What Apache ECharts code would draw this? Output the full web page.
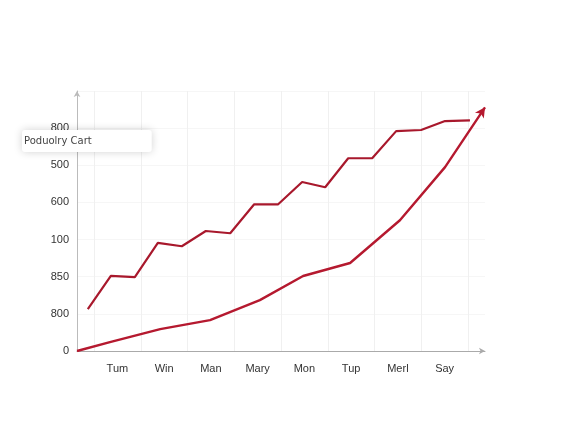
<!DOCTYPE html><html><head><meta charset="utf-8">
<script src="https://cdn.jsdelivr.net/npm/echarts@6/dist/echarts.min.js"></script>
<style>html,body{margin:0;background:#fff}#c{width:576px;height:448px}</style></head><body><div id="c"></div>
<script>
const categories=['Tum','Win','Man','Mary','Mon','Tup','Merl','Say'];
const yTickLabels=['0','800','850','100','600','500','800'];
const upperSeries=[[0.23,1.13],[0.72,2.02],[1.23,1.99],[1.72,2.91],[2.23,2.82],[2.74,3.23],[3.26,3.17],[3.77,3.95],[4.28,3.95],[4.79,4.55],[5.28,4.41],[5.77,5.19],[6.28,5.19],[6.79,5.92],[7.32,5.95],[7.83,6.19],[8.36,6.21]];
const lowerSeries=[[0,0],[0.70,0.24],[1.77,0.59],[2.83,0.83],[3.89,1.37],[4.81,2.02],[5.81,2.37],[6.87,3.52],[7.83,4.95],[8.68,6.56]];
const titleText='Poduolry Cart';
const red='#b5192f';
const ch=echarts.init(document.getElementById('c'));
ch.setOption({
 animation:false,
 title:{text:titleText,left:22,top:130,padding:[6,60,6,2],backgroundColor:'#fff',borderRadius:3,
  shadowBlur:8,shadowColor:'rgba(0,0,0,0.18)',textStyle:{fontSize:10,fontWeight:'normal',color:'#444',fontFamily:'DejaVu Sans'}},
 grid:[{left:77,right:91,top:91,bottom:97},{left:94,width:374,top:91,bottom:97}],
 xAxis:[
  {type:'value',gridIndex:0,min:0,max:8.68,axisLabel:{show:false},axisTick:{show:false},splitLine:{show:false},
   axisLine:{lineStyle:{color:'#aaa'},symbol:['none','arrow'],symbolSize:[5,6]}},
  {type:'category',gridIndex:1,data:categories,axisLine:{show:false},axisTick:{show:false},
   axisLabel:{color:'#333',fontSize:11,margin:12},splitLine:{show:true,lineStyle:{color:'#f0f0f0'}}}
 ],
 yAxis:[
  {type:'value',gridIndex:0,min:0,max:7,interval:1,
   axisLabel:{color:'#333',fontSize:11,formatter:(v)=>yTickLabels[v]!==undefined?yTickLabels[v]:''},
   axisLine:{show:true,lineStyle:{color:'#bbb'},symbol:['none','arrow'],symbolSize:[5,6]},axisTick:{show:false},
   splitLine:{lineStyle:{color:'#f6f6f6'}}},
  {type:'value',gridIndex:1,min:0,max:7,show:false}
 ],
 series:[
  {type:'line',xAxisIndex:0,yAxisIndex:0,data:upperSeries,showSymbol:false,lineStyle:{color:'#a8182c',width:2.2}},
  {type:'line',xAxisIndex:0,yAxisIndex:0,data:lowerSeries.map((p,i)=>i===lowerSeries.length-1?{value:p,symbol:'arrow',symbolSize:[8,10],symbolRotate:-34}:{value:p,symbol:'none'}),
   itemStyle:{color:red},lineStyle:{color:red,width:2.4}}
 ]
});
</script></body></html>
